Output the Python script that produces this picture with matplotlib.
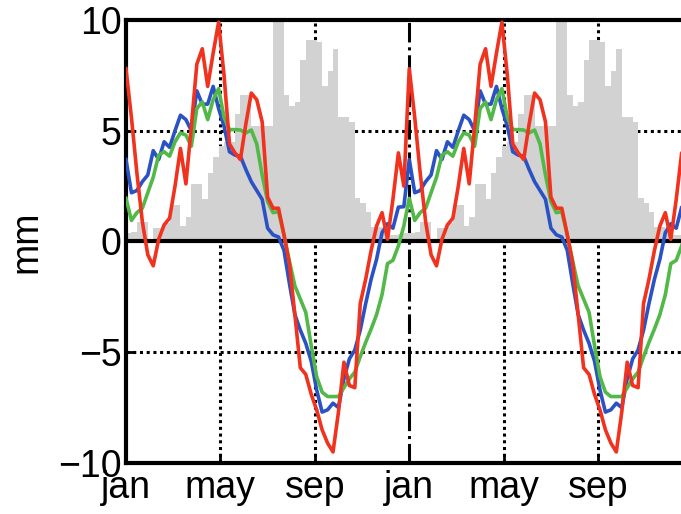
import matplotlib
matplotlib.use("Agg")
from matplotlib import pyplot as plt
import numpy as np

plt.rcParams['font.family'] = ['Liberation Sans', 'DejaVu Sans']

# weekly values for one year, the chart shows the same year twice
precip = [0.4, 0.45, 0.88, 0.88, 0.05, 0.6, 0.6, 0.85, 1.65, 1.65,
          0.7, 1.1, 2.6, 2.6, 1.9, 3.1, 3.8, 4.3, 4.5, 4.5,
          5.75, 6.6, 6.6, 5.2, 5.2, 5.2, 5.2, 10.0, 10.0, 6.6,
          6.1, 6.3, 8.2, 9.1, 9.1, 9.0, 7.0, 7.7, 8.7, 5.6,
          5.6, 5.4, 1.95, 1.75, 1.35, 0.67, 0.67, 0.4, 0.3, 0.3,
          0.35, 0.4]

blue = [3.7, 2.2, 2.3, 2.7, 3.0, 4.1, 3.7, 4.5, 4.25, 5.0,
        5.7, 5.5, 5.0, 6.8, 6.2, 6.2, 7.0, 6.0, 5.2, 4.05,
        3.9, 3.85, 3.25, 2.7, 2.3, 1.9, 0.6, 0.3, 0.2, -0.4,
        -1.9, -3.3, -4.0, -4.6, -5.4, -6.7, -7.7, -7.6, -7.3, -7.5,
        -6.2, -5.3, -4.9, -4.0, -2.8, -1.7, -0.8, 0.4, 0.8, 0.6,
        1.55, 1.57]

green = [1.95, 0.95, 1.3, 1.5, 2.2, 2.9, 3.9, 4.05, 3.85, 4.5,
         4.9, 4.8, 4.3, 6.0, 6.3, 5.5, 6.4, 6.9, 5.6, 5.05,
         5.05, 5.03, 4.9, 5.03, 4.4, 3.0, 1.8, 1.3, 1.35, 0.3,
         -0.9, -2.0, -2.6, -3.2, -4.7, -6.1, -6.8, -7.0, -7.0, -7.0,
         -6.6, -6.2, -5.9, -5.2, -4.55, -3.95, -3.3, -2.4, -1.0, -0.85,
         -0.2, 0.7]

red = [7.8, 5.6, 3.1, 0.9, -0.6, -1.1, 0.1, 0.75, 1.05, 2.5,
       4.2, 2.6, 5.2, 8.0, 8.7, 7.0, 8.5, 9.9, 7.5, 4.4,
       4.0, 3.7, 5.3, 6.7, 6.4, 5.4, 2.0, 1.5, 1.5, 0.3,
       -1.0, -3.3, -5.7, -6.0, -6.9, -7.6, -8.5, -9.1, -9.5, -7.7,
       -5.45, -6.5, -6.6, -2.8, -1.7, -0.4, 0.7, 1.3, 0.1, 1.9,
       4.0, 2.5]

month_ticks = [0, 4, 8, 12, 16, 20]
month_labels = ['jan', 'may', 'sep', 'jan', 'may', 'sep']

n_years = 2
weeks = np.arange(52 * n_years)
t = weeks * 12.0 / 52   # time in months

fig = plt.figure(figsize=(6.81, 5.14), dpi=100)
ax = fig.add_axes([0.185, 0.0992, 0.832, 0.862])

ax.bar(t, np.tile(precip, n_years), width=12.0 / 52, align='edge',
       color='#d2d2d2', linewidth=0, zorder=1)

# grid
for xv in [4, 8, 16, 20]:
    ax.axvline(xv, color='black', lw=2.2, ls=(0, (1, 1.2)), zorder=0.5)
for yv in [5, -5]:
    ax.axhline(yv, color='black', lw=2.2, ls=(0, (1, 1.2)), zorder=0.5)
ax.axvline(12, color='black', lw=2.2, ls='-.', zorder=0.5)
ax.axhline(0, color='black', lw=3, zorder=2)

ax.plot(t, np.tile(blue, n_years), color='#2a52c4', lw=2.6, zorder=3)
ax.plot(t, np.tile(green, n_years), color='#52b848', lw=2.6, zorder=3)
ax.plot(t, np.tile(red, n_years), color='#f0321e', lw=2.6, zorder=4)

ax.set_xlim(0, 24)
ax.set_ylim(-10, 10)
ax.set_yticks([-10, -5, 0, 5, 10])
ax.set_yticklabels(['\u221210', '\u22125', '0', '5', '10'])
ax.set_xticks(month_ticks)
ax.set_xticklabels(month_labels)
ax.tick_params(direction='in', length=6, width=2, labelsize=27)
ax.tick_params(axis='x', pad=5)
ax.tick_params(axis='y', pad=3)
ax.set_ylabel('mm', fontsize=27, labelpad=10)

for s in ax.spines.values():
    s.set_linewidth(3)

fig.savefig('out.png', dpi=100)
